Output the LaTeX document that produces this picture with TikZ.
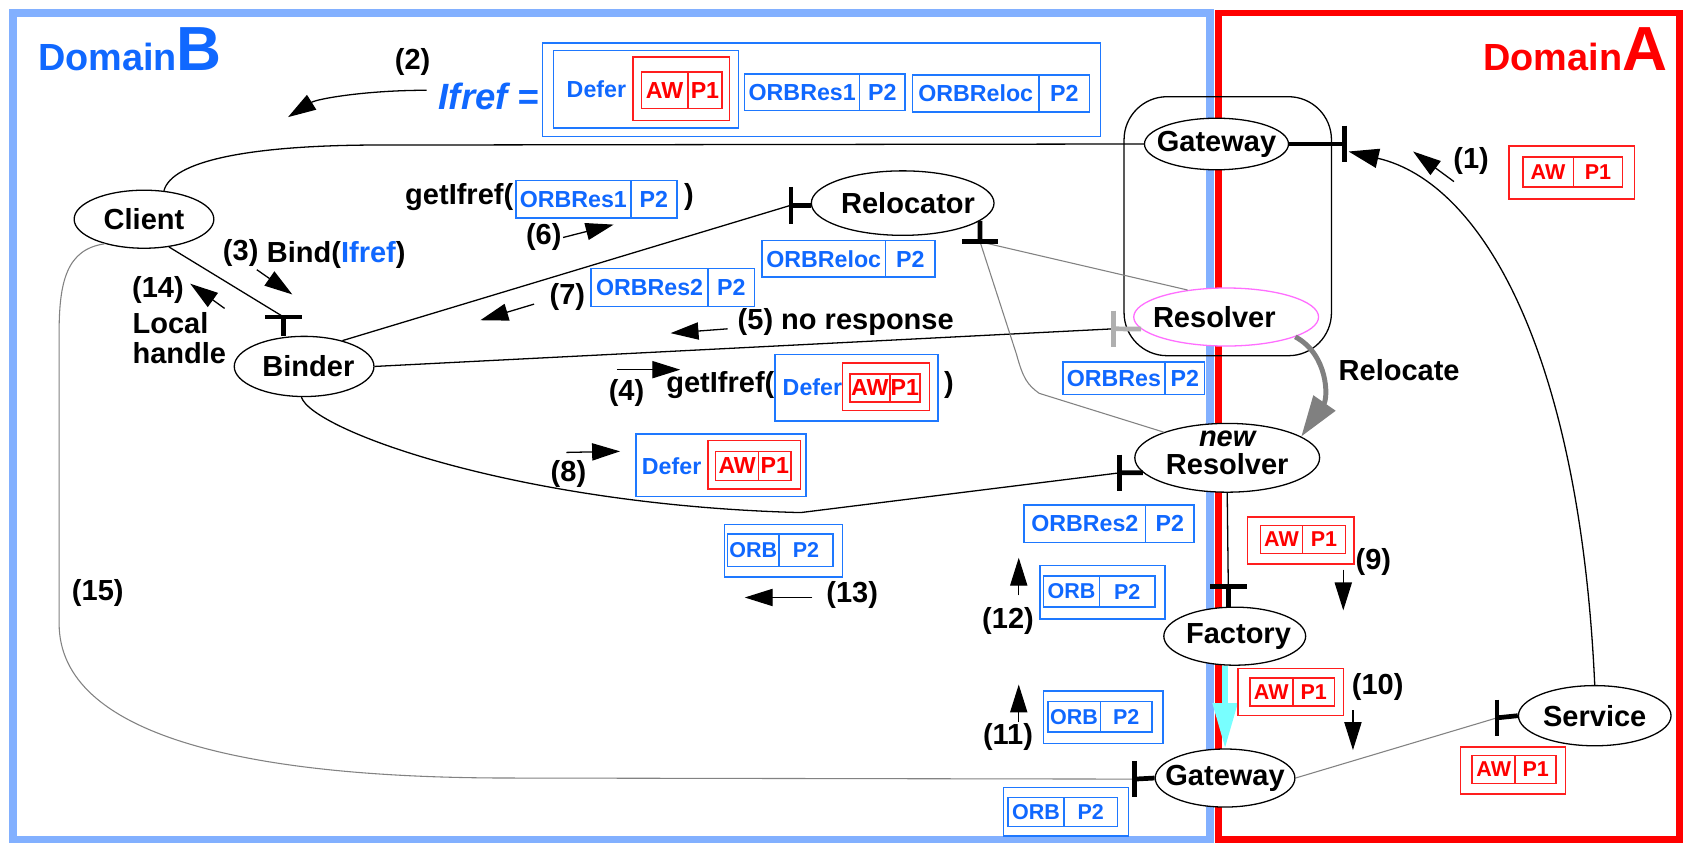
\documentclass[tikz,border=0pt]{standalone}
\usepackage{fontspec}
\setmainfont{Liberation Sans}
\usetikzlibrary{shapes.geometric,arrows.meta}
\definecolor{bblue}{RGB}{16,104,255}
\definecolor{bframe}{RGB}{130,176,255}
\definecolor{rframe}{RGB}{255,0,0}
\definecolor{rboxc}{RGB}{255,30,30}
\definecolor{bboxc}{RGB}{30,120,255}
\definecolor{pinkc}{RGB}{255,110,255}
\definecolor{cyanc}{RGB}{120,255,255}
\definecolor{gline}{RGB}{130,130,130}
\definecolor{lgrey}{RGB}{175,175,175}
\definecolor{relgrey}{RGB}{128,128,128}
\newcommand\lblfont{\fontsize{13.5}{15}\selectfont\bfseries}
\newcommand\boxfont{\fontsize{10.8}{12}\selectfont\bfseries}
\newcommand\orbfont{\fontsize{10}{12}\selectfont\bfseries}
\tikzset{
  ell/.style={ellipse, draw, fill=white, line width=0.6pt, inner sep=0pt},
  bcell/.style={draw=bboxc, line width=0.7pt, text=bblue, font=\boxfont, inner sep=0pt},
  rcell/.style={draw=rboxc, line width=0.7pt, text=red, font=\orbfont, inner sep=0pt},
  bbox/.style={draw=bboxc, fill=white, line width=0.7pt, inner sep=0pt},
  rbox/.style={draw=rboxc, fill=white, line width=0.7pt, inner sep=0pt},
  tbar/.style={line width=2.2pt},
  conn/.style={line width=0.6pt},
  gconn/.style={line width=0.5pt, draw=gline},
  arr/.style={line width=0.6pt, -{Triangle[length=13pt,width=8pt]}},
}
\begin{document}
\begin{tikzpicture}[x=0.5pt,y=-0.5pt, every node/.style={font=\lblfont, inner sep=0pt}]
\useasboundingbox (0,0) rectangle (1568,786);
\fill[white] (0,0) rectangle (1568,786);
% frames
\draw[bframe, line width=3.5pt] (12,12) rectangle (1126,781);
\draw[rframe, line width=3pt] (1134,12) rectangle (1563,781);
\node[anchor=base west, text=bblue] (domB) at (35,66) {\fontsize{17.6}{18}\selectfont\bfseries Domain\fontsize{29}{30}\selectfont B};
\node[anchor=base west, text=red] (domA) at (1380,66) {\fontsize{17.6}{18}\selectfont\bfseries Domain\fontsize{29}{30}\selectfont A};
% group around gateway & resolver
\node[draw, rounded corners=20pt, line width=0.6pt, minimum width=96.5pt, minimum height=120.5pt] (grp) at (1142.5,210.5) {};
% ellipses
\node[ell, minimum width=65pt, minimum height=27pt, label={center:Client}] (client) at (134,204) {};
\node[ell, minimum width=65pt, minimum height=28pt, label={[xshift=2pt]center:Binder}] (binder) at (283,341) {};
\node[ell, minimum width=85pt, minimum height=30pt, label={[xshift=2.5pt]center:Relocator}] (reloc) at (840,189) {};
\node[ell, minimum width=67pt, minimum height=24pt, label={center:Gateway}] (gwt) at (1132,134) {};
\node[ell, draw=pinkc, minimum width=86pt, minimum height=27pt, label={[xshift=-5.5pt]center:Resolver}] (resolver) at (1141,295) {};
\node[ell, minimum width=86pt, minimum height=32pt, label={[align=center, yshift=2.5pt]center:{\itshape new}\\[-2pt]Resolver}] (nres) at (1142,426) {};
\node[ell, minimum width=66pt, minimum height=27pt, label={[xshift=1.75pt]center:Factory}] (fac) at (1149,592) {};
\node[ell, minimum width=65pt, minimum height=27pt, label={center:Gateway}] (gwb) at (1140,724) {};
\node[ell, minimum width=71pt, minimum height=28pt, label={center:Service}] (svc) at (1484,666) {};
% T-bar coordinates
\coordinate (tGT) at (1251,134);
\coordinate (tB) at (264,295);
\coordinate (tRL) at (736,191);
\coordinate (tRB) at (912,225);
\coordinate (tRS) at (1036,306);
\coordinate (tNR) at (1042,440);
\coordinate (tF) at (1143,546);
\coordinate (tGB) at (1056,725);
\coordinate (tSV) at (1393,668);
% connectors
\draw[conn] (client.55) .. controls (160,150) and (230,136) .. (341,135) -- (gwt.west);
\draw[conn] (client.-48) -- (tB);
\draw[conn] (binder.34) -- (tRL);
\draw[conn] (binder.east) -- (tRS);
\draw[conn] (binder.265) .. controls (290,400) and (480,470) .. (745,477) -- (tNR);
\draw[gconn] (tRB) -- (resolver.145);
\draw[gconn] (tRB) -- (946,330) .. controls (952,352) and (956,358) .. (967,366) -- (nres.158);
\draw[gconn] (client.-148) .. controls (62,232) and (55,262) .. (55,310) -- (55,580) .. controls (55,685) and (230,724) .. (475,724) -- (tGB);
\draw[gconn] (gwb.east) -- (tSV);
\draw[conn] (nres.south) -- (tF);
\draw[conn, -{Triangle[length=14pt,width=9pt]}] (svc.north) .. controls (1470,330) and (1380,170) .. (1255,141);
\draw[relgrey, line width=2.3pt, -{Triangle[length=19pt,width=12pt]}] (resolver.-16) .. controls (1236,330) and (1236,370) .. (nres.16);
\draw[cyanc, line width=2.8pt, -{Triangle[length=21pt,width=11pt]}] (fac.south -| gwb.north) -- (gwb.north);
% T-bars
\draw[tbar] (gwt.east) -- (tGT);
\draw[tbar] (tGT) ++(0,-17) -- ++(0,34);
\draw[tbar] (tB) -- (tB |- binder.north);
\draw[tbar] (tB) ++(-17,0) -- ++(34,0);
\draw[tbar] (tRL) -- (tRL -| reloc.west);
\draw[tbar] (tRL) ++(0,-17) -- ++(0,34);
\draw[tbar] (tRB) -- (reloc.-13);
\draw[tbar] (tRB) ++(-17,0) -- ++(34,0);
\draw[tbar, lgrey] (tRS) -- (resolver.188);
\draw[tbar, lgrey] (tRS) ++(0,-17) -- ++(0,34);
\draw[tbar] (tNR) -- (nres.190);
\draw[tbar] (tNR) ++(0,-17) -- ++(0,34);
\draw[tbar] (tF) -- (tF |- fac.north);
\draw[tbar] (tF) ++(-17,0) -- ++(34,0);
\draw[tbar] (tGB) -- (gwb.west);
\draw[tbar] (tGB) ++(0,-17) -- ++(0,34);
\draw[tbar] (tSV) -- (svc.west);
\draw[tbar] (tSV) ++(0,-17) -- ++(0,34);
% Ifref group
\node[bbox, minimum width=259.5pt, minimum height=43.5pt] (ifbox) at (764.5,83.5) {};
\node[bbox, minimum width=86pt, minimum height=36pt] (ifdef) at (601,83) {};
\node[text=bblue, font=\boxfont] (ifdeft) at (555,83) {Defer};
\node[rbox, minimum width=45pt, minimum height=29.5pt] (ifred) at (634,82.5) {};
\node[rcell, font=\boxfont, minimum width=21.5pt, minimum height=17pt] (ifaw) at (618.5,84) {AW};
\node[rcell, font=\boxfont, minimum width=16pt, minimum height=17pt] (ifp1) at (656,84) {P1};
\node[bcell, minimum width=53.5pt, minimum height=17pt] (ifo1) at (746.5,86) {ORBRes1};
\node[bcell, minimum width=21pt, minimum height=17pt] (ifo1p) at (821,86) {P2};
\node[bcell, minimum width=59pt, minimum height=17pt] (ifo2) at (908,87) {ORBReloc};
\node[bcell, minimum width=23.5pt, minimum height=17pt] (ifo2p) at (990.5,87) {P2};
% getIfref ORBRes1
\node[bcell, minimum width=53.5pt, minimum height=17.5pt] (g1o) at (533.5,185.5) {ORBRes1};
\node[bcell, minimum width=21.5pt, minimum height=17.5pt] (g1p) at (608.5,185.5) {P2};
% ORBReloc under relocator
\node[bcell, minimum width=57.5pt, minimum height=17pt] (rlo) at (766.5,241) {ORBReloc};
\node[bcell, minimum width=23pt, minimum height=17pt] (rlp) at (847,241) {P2};
% ORBRes2 (7)
\node[bcell, minimum width=54.5pt, minimum height=17.5pt] (r2o) at (604.5,267.5) {ORBRes2};
\node[bcell, minimum width=21.5pt, minimum height=17.5pt] (r2p) at (680.5,267.5) {P2};
% (4) group
\node[bbox, minimum width=76pt, minimum height=31pt] (g2box) at (797,361) {};
\node[text=bblue, font=\boxfont] (g2def) at (756,360) {Defer};
\node[rbox, minimum width=40.5pt, minimum height=22pt] (g2red) at (824.5,360) {};
\node[rcell, font=\boxfont, minimum width=18.5pt, minimum height=13pt] (g2aw) at (809.5,361) {AW};
\node[rcell, font=\boxfont, minimum width=14pt, minimum height=13pt] (g2p1) at (842,361) {P1};
% (8) group
\node[bbox, minimum width=79pt, minimum height=29pt] (d8box) at (671,433) {};
\node[text=bblue, font=\boxfont] (d8def) at (625,434) {Defer};
\node[rbox, minimum width=43pt, minimum height=22.5pt] (d8red) at (702,432.5) {};
\node[rcell, font=\boxfont, minimum width=20pt, minimum height=13.5pt] (d8aw) at (686,433.5) {AW};
\node[rcell, font=\boxfont, minimum width=15pt, minimum height=13.5pt] (d8p1) at (721,433.5) {P1};
% ORB boxes
\node[bbox, minimum width=55pt, minimum height=24.5pt] (o13) at (729,512.5) {};
\node[bcell, font=\orbfont, minimum width=24pt, minimum height=15pt] (o13a) at (701,512) {ORB};
\node[bcell, font=\orbfont, minimum width=25pt, minimum height=15pt] (o13b) at (750,512) {P2};
\node[bcell, minimum width=56.5pt, minimum height=17.5pt] (n2o) at (1009.5,487.5) {ORBRes2};
\node[bcell, minimum width=22.5pt, minimum height=17.5pt] (n2p) at (1088.5,487.5) {P2};
\node[bbox, minimum width=58pt, minimum height=25pt] (o12) at (1026,551) {};
\node[bcell, font=\orbfont, minimum width=26pt, minimum height=14.5pt] (o12a) at (997,550.5) {ORB};
\node[bcell, font=\orbfont, minimum width=26pt, minimum height=14.5pt] (o12b) at (1049,550.5) {P2};
\node[bbox, minimum width=55.5pt, minimum height=24.5pt] (o11) at (1026.5,667.5) {};
\node[bcell, font=\orbfont, minimum width=24.5pt, minimum height=14pt] (o11a) at (999.5,667) {ORB};
\node[bcell, font=\orbfont, minimum width=24pt, minimum height=14pt] (o11b) at (1048,667) {P2};
\node[bbox, minimum width=58pt, minimum height=22.5pt] (o0) at (992,755.5) {};
\node[bcell, font=\orbfont, minimum width=26pt, minimum height=13.5pt] (o0a) at (964,755.5) {ORB};
\node[bcell, font=\orbfont, minimum width=25pt, minimum height=13.5pt] (o0b) at (1015,755.5) {P2};
\node[bcell, minimum width=47.5pt, minimum height=15pt] (rso) at (1036.5,352) {ORBRes};
\node[bcell, minimum width=18.5pt, minimum height=15pt] (rsp) at (1102.5,352) {P2};
% red boxes
\node[rbox, minimum width=58.5pt, minimum height=24.5pt] (r1) at (1462.5,160.5) {};
\node[rcell, minimum width=23.5pt, minimum height=14pt] (r1a) at (1440.5,160) {AW};
\node[rcell, minimum width=23pt, minimum height=14pt] (r1b) at (1487,160) {P1};
\node[rbox, minimum width=49.5pt, minimum height=22pt] (r9) at (1210.5,503) {};
\node[rcell, minimum width=19.5pt, minimum height=13pt] (r9a) at (1192.5,502) {AW};
\node[rcell, minimum width=20pt, minimum height=13pt] (r9b) at (1232,502) {P1};
\node[rbox, minimum width=49pt, minimum height=22pt] (r10) at (1201,644) {};
\node[rcell, minimum width=20pt, minimum height=13pt] (r10a) at (1183,644) {AW};
\node[rcell, minimum width=19.5pt, minimum height=13pt] (r10b) at (1222.5,644) {P1};
\node[rbox, minimum width=49pt, minimum height=22pt] (rs) at (1408,717) {};
\node[rcell, minimum width=20pt, minimum height=13pt] (rsa) at (1390,716) {AW};
\node[rcell, minimum width=19pt, minimum height=13pt] (rsb) at (1429,716) {P1};
% free arrows
\draw[arr] (1353,169) -- (1315,141);
\draw[arr] (397,84) .. controls (340,84) and (295,92) .. (268,109);
\draw[arr] (239,251) -- (272,274);
\draw[arr] (209,287) -- (177,264);
\draw[arr] (524,221) -- (571,209);
\draw[arr] (497,283) -- (447,298);
\draw[arr] (677,306) -- (624,310);
\draw[arr] (574,344) -- (633,344);
\draw[arr] (527,421) -- (577,420);
\draw[arr] (1250,530) -- (1250,568);
\draw[arr] (1259,661) -- (1259,698);
\draw[arr] (948,554) -- (948,519);
\draw[arr] (948,672) -- (948,637);
\draw[arr] (756,556) -- (693,556);
% labels
\node (l2) at (384,58) {(2)};
\node[text=bblue, font=\fontsize{17}{18}\selectfont\bfseries\itshape] (lifref) at (455,90) {Ifref =};
\node[anchor=east] (lg1) at (478,183) {getIfref(};
\node (lg1c) at (641,183) {)};
\node (l6) at (506,221) {(6)};
\node (l3) at (224,235) {(3)};
\node[anchor=west] (lbind) at (248,237) {Bind(\textcolor{bblue}{Ifref})};
\node (l14) at (147,270) {(14)};
\node[anchor=west, align=left] (lloc) at (123,315) {Local\\[-1pt]handle};
\node (l7) at (528,276) {(7)};
\node (l5) at (787,300) {(5) no response};
\node (l4) at (583,366) {(4)};
\node[anchor=east] (lg2) at (721,358) {getIfref(};
\node (lg2c) at (883,358) {)};
\node (l8) at (529,441) {(8)};
\node (lrel) at (1302,344) {Relocate};
\node (l1) at (1369,150) {(1)};
\node (l9) at (1278,523) {(9)};
\node (l10) at (1282,639) {(10)};
\node (l12) at (938,578) {(12)};
\node (l11) at (938,686) {(11)};
\node (l13) at (793,554) {(13)};
\node (l15) at (91,552) {(15)};
\end{tikzpicture}
\end{document}
